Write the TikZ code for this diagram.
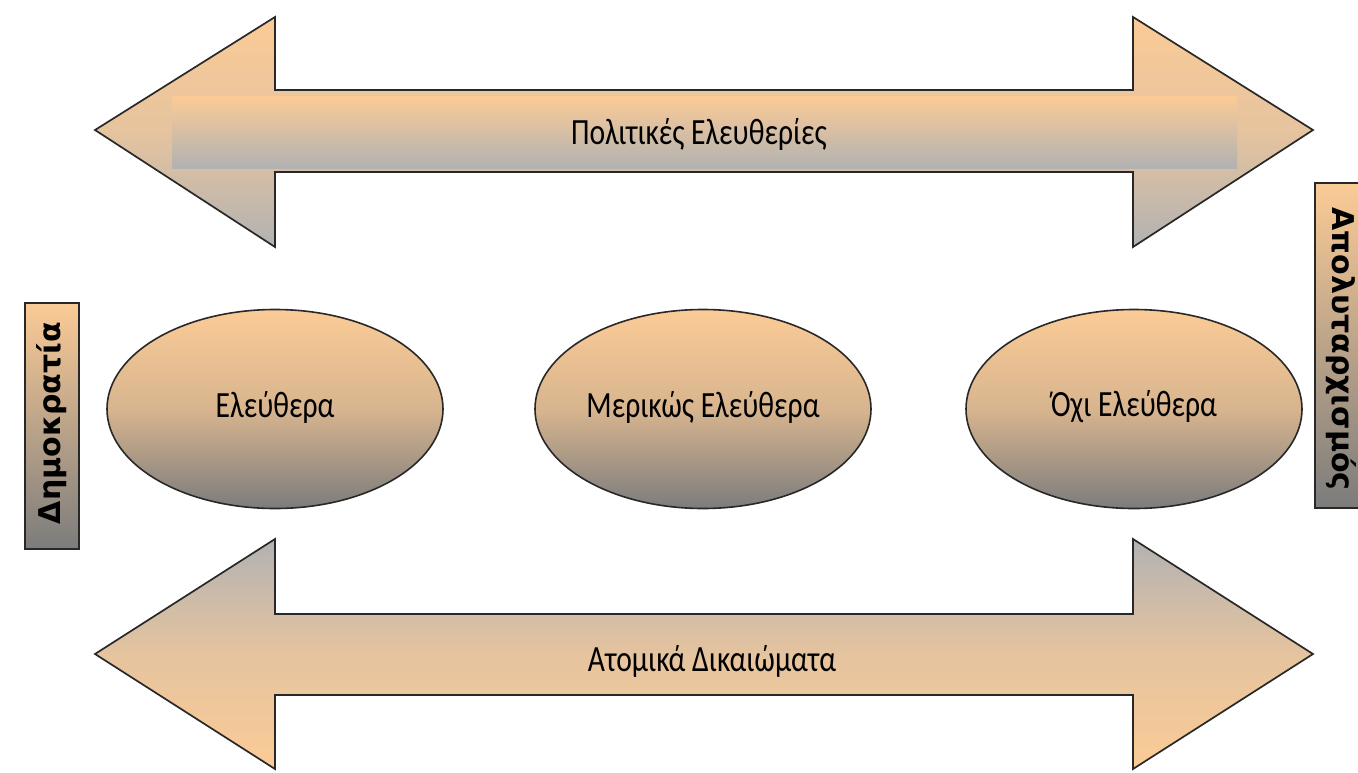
\documentclass[tikz,border=0pt]{standalone}
\usepackage{fontspec}
\usepackage{graphicx}
\usetikzlibrary{shapes.geometric}
\newfontfamily\lblfont{Carlito}
\newfontfamily\boxfont{DejaVu Sans}
\definecolor{peach}{RGB}{251,203,150}
\definecolor{lgray}{RGB}{178,178,178}
\definecolor{dgray}{RGB}{124,124,124}
\definecolor{edge}{RGB}{40,40,40}
\tikzset{
  bigarrow/.style={draw=edge, line width=1.7pt, line join=miter},
  topgrad/.style={top color=peach, bottom color=lgray, middle color=peach!70!lgray},
  botgrad/.style={top color=lgray, bottom color=peach, middle color=peach!70!lgray},
  oval/.style={ellipse, draw=edge, line width=1.6pt, minimum width=336pt, minimum height=199pt, inner sep=0pt, top color=peach, bottom color=dgray, middle color=peach!72!dgray},
  sidebox/.style={draw=edge, line width=1.6pt, top color=peach, bottom color=dgray},
  lbl/.style={font=\lblfont\fontsize{37}{42}\selectfont, text=black, inner sep=0pt},
  boxlbl/.style={font=\boxfont\bfseries\fontsize{30}{34}\selectfont, text=black, inner sep=0pt}
}
\newcommand{\narrow}[1]{\scalebox{0.8}[1]{#1}}
\begin{document}
\begin{tikzpicture}[x=1pt,y=-1pt]
\useasboundingbox (0,0) rectangle (1358,772);
% top double arrow
\path[bigarrow, topgrad] (95,130) -- (275,17) -- (275,90) -- (1133,90) -- (1133,17) -- (1313,130) -- (1133,247) -- (1133,172) -- (275,172) -- (275,247) -- cycle;
\path[top color=peach, bottom color=lgray] (172,96) rectangle (1237,168);
\node[lbl] (pol) at (699,134) {\narrow{Πολιτικές Ελευθερίες}};
% bottom double arrow
\path[bigarrow, botgrad] (95,654) -- (275,539) -- (275,614) -- (1133,614) -- (1133,539) -- (1313,654) -- (1133,769) -- (1133,695) -- (275,695) -- (275,769) -- cycle;
\node[lbl] (atom) at (712,661) {\narrow{Ατομικά Δικαιώματα}};
% ellipses
\node[oval] (free) at (275,409) {};
\node[lbl] (freet) at ([yshift=2pt]free.center) {\narrow{Ελεύθερα}};
\node[oval] (part) at (703,409) {};
\node[lbl] (partt) at ([yshift=2pt]part.center) {\narrow{Μερικώς Ελεύθερα}};
\node[oval] (nfree) at (1134,409) {};
\node[lbl] (nfreet) at ([yshift=2pt]nfree.center) {\narrow{Όχι Ελεύθερα}};
% side boxes
\path[sidebox] (25,303) rectangle (79,549);
\node[boxlbl, rotate=90] (dem) at (52,423) {Δημοκρατία};
\path[sidebox] (1315,183) rectangle (1372,508);
\node[boxlbl, rotate=-90] (abs) at (1341,349) {Απολυταρχισμός};
\end{tikzpicture}
\end{document}
